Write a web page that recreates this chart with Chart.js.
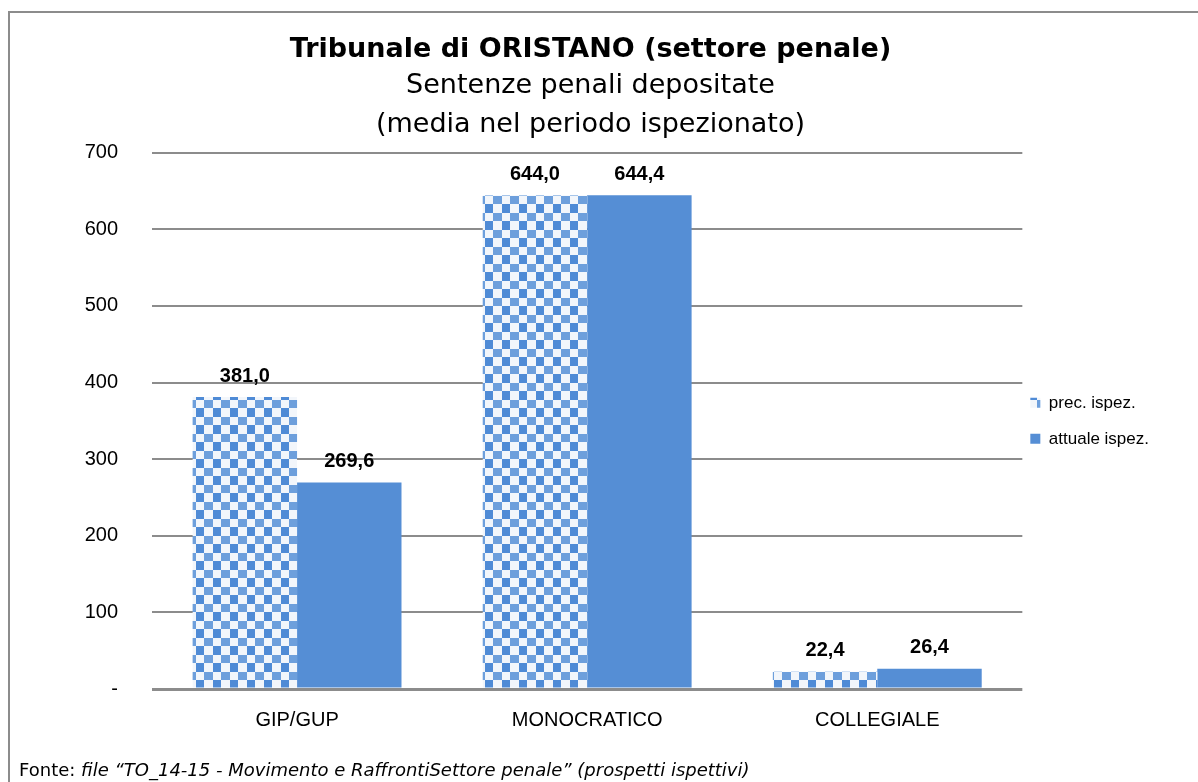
<!DOCTYPE html>
<html>
<head>
<meta charset="utf-8">
<script src="https://cdn.jsdelivr.net/npm/chart.js@4"></script>
<style>
  html, body { margin: 0; padding: 0; background: #fff; }
  #wrap { position: relative; width: 1198px; height: 782px; overflow: hidden; }
  #frame { position: absolute; left: 8px; top: 11px; width: 1300px; height: 900px;
           border-left: 2px solid #8c8c8c; border-top: 2px solid #8c8c8c; }
  canvas { position: absolute; left: 0; top: 0; }
</style>
</head>
<body>
<div id="wrap">
  <div id="frame"></div>
  <canvas id="chart" width="1198" height="782"></canvas>
</div>
<script>
const categories = ['GIP/GUP', 'MONOCRATICO', 'COLLEGIALE'];
const precIspez = [381.0, 644.0, 22.4];
const attualeIspez = [269.6, 644.4, 26.4];
const seriesNames = ['prec. ispez.', 'attuale ispez.'];
const yTicks = [0, 100, 200, 300, 400, 500, 600, 700];

const blue = '#558ed5';
const arial = '"Liberation Sans", Arial, sans-serif';
const tahoma = '"DejaVu Sans", Tahoma, sans-serif';

// checkerboard fill for the previous inspection
const makeChecker = () => {
    const c = document.createElement('canvas');
    c.width = 17; c.height = 17;
    const g = c.getContext('2d');
    g.fillStyle = '#f2f6fb';
    g.fillRect(0, 0, 17, 17);
    g.fillStyle = '#4f8bd6';
    g.fillRect(9, 0, 8, 9);
    g.fillStyle = '#6d9fdc';
    g.fillRect(0, 9, 9, 8);
    return g.createPattern(c, 'repeat');
};
const checker = makeChecker();

const fmt = v => v.toFixed(1).replace('.', ',');

const valueLabels = {
    id: 'valueLabels',
    afterDatasetsDraw(chart) {
        const ctx = chart.ctx;
        ctx.save();
        ctx.font = 'bold 20px ' + arial;
        ctx.fillStyle = '#000';
        ctx.textAlign = 'center';
        ctx.textBaseline = 'middle';
        chart.data.datasets.forEach((ds, i) => {
            chart.getDatasetMeta(i).data.forEach((bar, j) => {
                ctx.fillText(fmt(ds.data[j]), bar.x, bar.y - 21);
            });
        });
        ctx.restore();
    }
};

// pull the legend a little closer to the plot
const legendShift = {
    id: 'legendShift',
    afterLayout(chart) {
        chart.legend.left -= 11;
        chart.legend.right -= 11;
    }
};

const footer = {
    id: 'footer',
    afterDraw(chart) {
        const ctx = chart.ctx;
        ctx.save();
        ctx.fillStyle = '#000';
        ctx.textBaseline = 'alphabetic';
        ctx.font = '18px ' + tahoma;
        const lead = 'Fonte: ';
        ctx.fillText(lead, 19, 776);
        const w = ctx.measureText(lead).width;
        ctx.font = 'italic 18px ' + tahoma;
        ctx.fillText('file \u201cTO_14-15 - Movimento e RaffrontiSettore penale\u201d (prospetti ispettivi)', 19 + w, 776);
        ctx.restore();
    }
};

new Chart(document.getElementById('chart'), {
    type: 'bar',
    data: {
        labels: categories,
        datasets: [
            { label: seriesNames[0], data: precIspez, backgroundColor: checker, borderWidth: 0 },
            { label: seriesNames[1], data: attualeIspez, backgroundColor: blue, borderWidth: 0 }
        ]
    },
    options: {
        responsive: false,
        animation: false,
        devicePixelRatio: 1,
        layout: { padding: { left: 11, right: 28, top: 22, bottom: 39 } },
        datasets: { bar: { categoryPercentage: 0.72, barPercentage: 1.0 } },
        scales: {
            x: {
                grid: { display: false },
                border: { display: false },
                ticks: { color: '#000', padding: 11, font: { family: arial, size: 20 } }
            },
            y: {
                min: 0, max: 700,
                afterBuildTicks: axis => { axis.ticks = yTicks.map(v => ({ value: v })); },
                afterFit: axis => { axis.width = 141; },
                grid: {
                    drawTicks: false,
                    color: '#8c8c8c',
                    lineWidth: ctx => ctx.tick && ctx.tick.value === 0 ? 3 : 2
                },
                border: { display: false },
                ticks: {
                    color: '#000', padding: 34,
                    font: { family: arial, size: 20 },
                    callback: v => v === 0 ? '-' : String(v)
                }
            }
        },
        plugins: {
            legend: {
                position: 'right',
                fullSize: false,
                labels: {
                    color: '#000', boxWidth: 10, boxHeight: 10, padding: 19,
                    font: { family: arial, size: 17 }
                }
            },
            title: {
                display: true,
                text: 'Tribunale di ORISTANO (settore penale)',
                color: '#000',
                padding: { top: 12, bottom: 0 },
                font: { family: tahoma, size: 27, weight: 'bold', lineHeight: 1.2 }
            },
            subtitle: {
                display: true,
                text: ['Sentenze penali depositate', '(media nel periodo ispezionato)'],
                color: '#000',
                padding: { top: 0, bottom: 8 },
                font: { family: tahoma, size: 27, lineHeight: 1.45 }
            },
            tooltip: { enabled: false }
        }
    },
    plugins: [valueLabels, legendShift, footer]
});
</script>
</body>
</html>
